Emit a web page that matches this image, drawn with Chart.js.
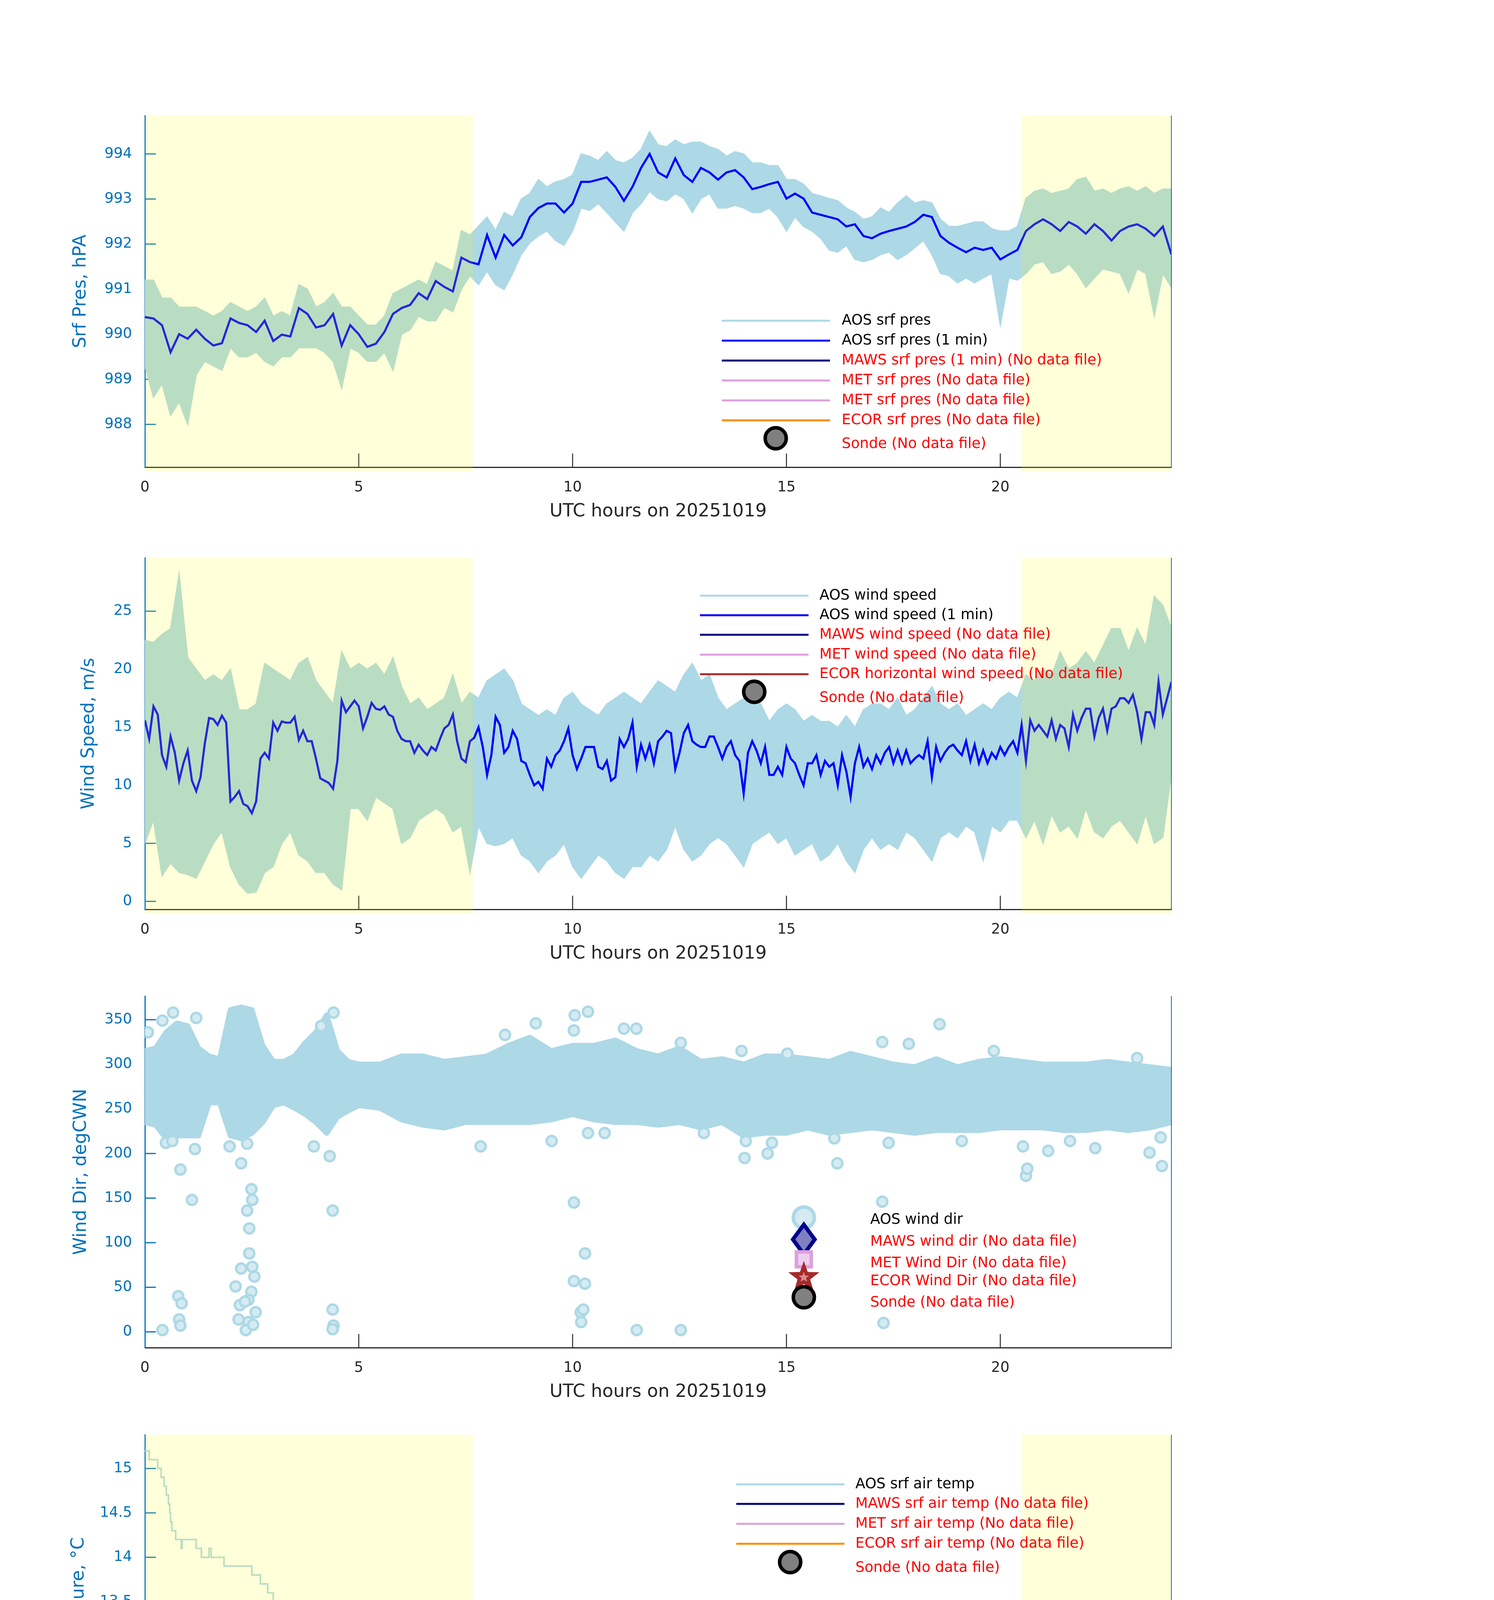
<!DOCTYPE html>
<html>
<head>
<meta charset="utf-8">
<title>Surface met 20251019</title>
<script src="https://cdn.jsdelivr.net/npm/chart.js"></script>
<style>
  body { margin: 0; background: #fff; width: 3825px; height: 7125px; position: relative; overflow: hidden; }
  canvas { position: absolute; left: 0; }
</style>
</head>
<body>
<canvas id="c1" width="3825" height="1300" style="top:146px"></canvas>
<canvas id="c2" width="3825" height="1300" style="top:1278px"></canvas>
<canvas id="c3" width="3825" height="1300" style="top:2400px"></canvas>
<canvas id="c4" width="3825" height="1300" style="top:3523px"></canvas>
<canvas id="c5" width="3825" height="1300" style="top:4646px"></canvas>
<canvas id="c6" width="3825" height="1300" style="top:5778px"></canvas>

<script>
// ---- data ----
const hourTicks = [0, 5, 10, 15, 20];
const shadeStart = [0, 20.5];
const shadeEnd = [7.67, 24];

// surface pressure, hPa (0.2 h samples)
const presStep = 0.2;
const pres1min = [990.38,990.35,990.2,989.6,990.0,989.9,990.1,989.9,989.75,989.8,
  990.35,990.25,990.2,990.05,990.3,989.85,989.99,989.95,990.58,990.45,
  990.15,990.2,990.45,989.75,990.2,990.0,989.72,989.79,990.05,990.45,
  990.58,990.65,990.91,990.78,991.18,991.05,990.95,991.7,991.6,991.55,
  992.2,991.7,992.2,991.97,992.15,992.6,992.8,992.9,992.9,992.7,
  992.9,993.38,993.38,993.43,993.48,993.27,992.96,993.27,993.69,994.0,
  993.59,993.48,993.9,993.53,993.38,993.69,993.59,993.43,993.59,993.64,
  993.48,993.22,993.27,993.33,993.38,993.01,993.12,993.01,992.7,992.65,
  992.6,992.55,992.39,992.44,992.18,992.13,992.23,992.29,992.34,992.39,
  992.49,992.65,992.6,992.18,992.03,991.92,991.82,991.92,991.87,991.92,
  991.66,991.77,991.87,992.29,992.44,992.55,992.44,992.29,992.49,992.39,
  992.23,992.44,992.29,992.08,992.29,992.39,992.44,992.34,992.18,992.39,
  991.77];
const presHi = [991.2,991.2,990.8,990.8,990.6,990.6,990.6,990.5,990.4,990.5,
  990.7,990.6,990.5,990.6,990.8,990.4,990.5,990.4,991.1,991.0,
  990.6,990.7,990.9,990.6,990.6,990.4,990.2,990.2,990.4,990.9,
  991.0,991.1,991.2,991.1,991.6,991.5,991.4,992.3,992.2,992.4,
  992.6,992.3,992.7,992.6,993.0,993.12,993.43,993.27,993.38,993.43,
  993.53,994.0,993.95,993.85,994.05,993.85,993.8,993.9,994.1,994.5,
  994.2,994.16,994.31,994.2,994.26,994.26,994.16,994.1,993.95,994.05,
  994.0,993.8,993.8,993.74,993.74,993.43,993.43,993.33,993.12,993.07,
  993.01,992.96,992.8,992.7,992.55,992.6,992.8,992.7,992.91,993.07,
  992.91,992.96,992.91,992.55,992.39,992.39,992.44,992.49,992.49,992.34,
  992.29,992.29,992.39,993.01,993.17,993.22,993.12,993.17,993.22,993.43,
  993.48,993.17,993.22,993.12,993.22,993.27,993.17,993.27,993.12,993.22,
  993.22];
const presLo = [989.3,988.6,988.9,988.2,988.5,988.0,989.1,989.4,989.3,989.2,
  989.7,989.5,989.5,989.6,989.4,989.3,989.5,989.5,989.7,989.7,
  989.7,989.6,989.4,988.8,989.7,989.6,989.4,989.4,989.6,989.2,
  990.0,990.1,990.4,990.3,990.3,990.6,990.5,991.0,991.3,991.1,
  991.4,991.1,990.99,991.35,991.77,992.03,992.18,992.29,992.08,991.97,
  992.29,992.8,992.75,992.9,992.7,992.49,992.29,992.7,992.9,993.17,
  993.01,992.96,993.12,993.01,992.7,993.01,993.12,992.8,992.8,992.86,
  992.8,992.7,992.7,992.8,992.6,992.29,992.6,992.39,992.29,992.13,
  991.87,991.82,991.97,991.66,991.61,991.66,991.77,991.82,991.66,991.77,
  991.92,992.08,991.77,991.35,991.3,991.14,991.25,991.14,991.25,991.35,
  990.2,991.25,991.2,991.35,991.56,991.61,991.35,991.4,991.56,991.35,
  991.04,991.25,991.45,991.4,991.35,990.93,991.45,991.35,990.4,991.35,
  991.04];
const presTicks = [988, 989, 990, 991, 992, 993, 994];

// wind speed, m/s
const windStep = 0.1;
const wind1min = [15.6,14.0,16.8,16.1,12.6,11.6,14.2,12.8,10.4,11.9,
  13.0,10.4,9.5,10.7,13.6,15.8,15.7,15.2,16.0,15.4,
  8.6,9.0,9.5,8.4,8.2,7.6,8.6,12.3,12.8,12.3,
  15.4,14.7,15.5,15.4,15.4,15.9,13.9,14.7,13.8,13.8,
  12.3,10.6,10.4,10.2,9.7,12.1,17.3,16.3,16.8,17.3,
  16.8,14.9,15.9,17.1,16.6,16.5,16.8,16.1,15.9,14.7,
  14.0,13.8,13.8,12.8,13.5,13.0,12.6,13.3,13.0,14.0,
  14.9,15.2,16.1,13.8,12.3,12.0,13.8,14.1,15.0,13.3,
  10.9,12.6,15.9,15.2,12.8,13.3,14.7,14.0,12.1,11.9,
  10.9,10.0,10.3,9.7,12.3,11.6,12.6,13.0,13.8,14.9,
  12.6,11.4,12.3,13.3,13.3,13.3,11.6,11.4,12.1,10.4,
  10.7,14.0,13.3,14.0,15.4,11.6,13.5,12.3,13.5,11.9,
  13.8,14.2,14.7,14.5,11.4,12.8,14.5,15.2,13.8,13.5,
  13.3,13.3,14.2,14.2,13.3,12.3,13.3,13.8,12.6,12.1,
  9.3,12.8,13.8,13.0,11.9,13.3,10.9,10.9,11.6,10.9,
  13.3,12.3,11.9,10.9,10.0,11.9,11.9,12.6,10.9,12.1,
  11.6,11.9,10.0,12.6,11.2,9.0,11.9,13.3,11.6,12.3,
  11.4,12.6,11.9,12.8,13.3,11.9,13.0,11.9,13.0,11.9,
  12.3,12.6,12.3,13.8,10.7,13.3,12.1,12.8,13.3,13.5,
  13.0,12.6,13.8,12.1,13.5,11.9,13.0,11.9,12.8,12.3,
  13.3,12.6,13.3,13.8,12.8,15.2,12.1,15.6,14.7,15.2,
  14.7,14.2,15.6,14.0,15.2,14.9,13.3,16.1,14.7,15.8,
  16.6,16.6,14.2,15.8,16.6,14.7,16.6,16.8,17.5,17.5,
  17.1,17.8,16.3,14.0,16.3,16.3,15.2,18.9,16.1,17.5,
  18.9];
const windBandStep = 0.2;
const windHi = [22.5,22.3,23.0,23.5,28.2,21.0,20.0,19.0,19.5,19.0,
  20.0,16.5,16.5,17.0,20.5,20.0,19.5,19.0,20.5,21.0,
  19.0,18.0,17.0,21.5,20.0,20.5,20.0,20.5,19.5,21.0,
  18.5,17.0,17.5,16.5,17.0,17.5,19.5,17.0,18.0,17.5,
  19.0,19.5,20.0,19.0,17.0,16.5,16.0,16.5,16.0,17.5,
  18.0,17.0,16.5,16.0,17.0,17.5,18.0,17.5,17.0,18.0,
  19.0,18.5,18.0,19.5,20.5,19.0,19.5,17.5,16.5,17.0,
  17.5,18.0,17.0,15.5,16.5,17.0,16.5,15.5,16.0,15.5,
  15.5,15.0,16.0,15.0,16.5,17.0,17.0,16.5,17.5,16.0,
  16.5,17.5,18.5,17.0,16.5,17.0,16.0,16.5,17.0,16.5,
  17.5,18.0,17.5,19.5,19.0,20.0,19.5,21.5,20.0,20.5,
  21.5,20.5,22.0,23.5,23.5,21.5,23.5,22.0,26.3,25.5,
  23.5];
const windLo = [5.0,7.0,2.2,3.3,2.5,2.3,2.0,3.5,5.0,6.0,
  3.0,1.5,0.7,0.8,2.5,3.0,5.0,6.0,4.0,3.5,
  2.5,2.5,1.5,1.0,8.0,8.0,7.0,9.0,8.5,8.0,
  5.0,5.5,7.0,7.5,8.0,7.5,6.0,6.5,2.5,6.5,
  5.0,4.8,5.0,5.5,4.0,3.5,2.5,3.5,4.0,5.0,
  3.0,2.0,3.0,4.0,3.5,2.5,2.0,3.0,3.0,4.0,
  3.5,4.5,6.5,4.5,3.5,4.0,5.0,5.5,5.0,4.0,
  3.0,5.0,5.5,6.0,5.0,5.5,4.0,4.5,5.0,3.5,
  4.0,5.0,3.5,2.5,4.5,5.5,4.5,5.0,4.5,6.0,
  5.5,4.5,3.5,5.5,6.0,5.5,6.5,6.0,3.5,6.5,
  6.0,7.0,7.0,5.5,7.0,5.0,7.5,6.0,6.5,5.5,
  8.0,6.0,5.5,6.5,7.0,6.0,5.0,7.5,5.0,5.5,
  11.0];
const windTicks = [0, 5, 10, 15, 20, 25];

// wind direction, deg (dense band edges + isolated points)
const dirHours = [0,0.25,0.5,0.75,1,1.25,1.5,1.75,2,2.25,2.5,2.75,3,3.25,3.5,3.75,4,4.25,4.5,4.75,5,
  5.5,6,6.5,7,7.5,8,8.5,9,9.5,10,10.5,11,11.5,12,12.5,13,13.5,14,14.5,15,15.5,16,16.5,17,17.5,18,18.5,19,19.5,20,20.5,21,21.5,22,22.5,23,23.5,24];
const dirHi = [315,318,336,346,343,318,309,306,361,364,361,321,303,303,309,324,336,355,315,303,300,
  300,309,309,303,306,309,321,330,315,321,321,327,315,309,318,303,306,300,309,309,306,303,312,306,300,297,306,297,303,306,303,300,300,300,303,300,297,294];
const dirLo = [235,232,217,220,220,220,257,257,220,217,223,235,254,257,251,244,235,223,241,248,254,
  251,238,232,229,235,235,235,235,238,244,238,235,235,232,235,229,235,220,223,223,229,223,226,229,226,223,226,226,226,229,229,229,226,226,229,226,229,235];
const dirOutH = [0.07,0.41,0.66,0.83,0.78,0.86,0.8,0.83,0.49,0.64,1.17,1.1,1.2,0.41,1.98,2.25,2.39,2.49,2.51,2.39,
  2.44,2.44,2.25,2.51,2.56,2.12,2.49,2.42,2.22,2.34,2.59,2.19,2.42,2.36,2.53,3.95,4.32,4.39,4.39,4.41,
  4.39,4.41,4.12,7.85,9.51,9.14,8.42,10.05,10.36,10.03,10.03,10.03,10.29,10.29,10.19,10.2,10.25,10.36,10.75,11.2,
  11.49,11.5,12.53,12.53,13.07,14.02,14.05,14.56,14.66,16.19,16.12,17.24,17.27,17.24,17.39,17.86,18.58,19.1,19.85,20.6,
  20.63,20.53,21.12,21.63,22.22,23.49,23.78,23.75,23.2,13.95,15.02];
const dirOutV = [336,2,358,182,40,32,14,7,212,214,205,148,352,349,208,189,211,160,148,136,
  116,88,71,73,62,51,45,36,30,34,22,14,11,2,8,208,197,136,25,7,
  3,358,343,208,214,346,333,355,359,338,145,57,54,88,22,11,25,223,223,340,
  340,2,2,324,223,195,214,200,212,189,217,146,10,325,212,323,345,214,315,175,
  183,208,203,214,206,201,186,218,307,315,312];
const dirTicks = [0, 50, 100, 150, 200, 250, 300, 350];

// air temperature, degC (value changes at these hours)
const tempH = [0,0.1,0.3,0.38,0.45,0.5,0.55,0.58,0.6,0.63,
  0.72,0.85,0.87,1.2,1.32,1.5,1.55,1.85,2.5,2.7,
  2.87,3.0,3.65,3.95,4.1,4.35,4.55,4.6,4.67,4.72,
  4.78,4.83,5.0,5.05,5.2,5.23,5.6,5.65,5.7,5.75,
  6.1,6.9,6.93,7.0,7.05,7.15,7.5,7.55,7.58,8.0,
  8.05,8.1,8.15,8.3,8.35,8.4,8.6,8.85,8.9,8.95,
  9.15,9.4,9.45,9.5,9.6,9.7,9.8,9.9,10.1,10.15,
  10.4,10.45,10.6,10.75,10.8,11.0,11.05,11.7,11.75,11.8,
  11.85,11.9,12.3,12.35,12.5,12.55,12.6,12.8,12.9,12.95,
  13.2,13.25,13.4,13.45,13.6,13.7,13.9,14.0,14.05,14.4,
  14.45,14.6,14.65,14.8,14.9,15.0,15.1,15.3,15.6,15.65,
  15.8,15.85,16.0,16.1,16.3,16.4,16.5,16.55,16.7,16.8,
  16.9,17.1,17.15,17.3,17.4,17.5,17.6,17.8,17.85,18.0,
  18.1,18.3,18.35,18.4,18.6,18.7,18.9,19.1,19.3,19.5,
  19.7,19.9,19.95,20.1,20.35,20.4,20.55,20.6,20.8,20.9,
  21.0,21.05,21.2,21.3,21.5,21.6,21.65,21.8,21.85,22.2,
  22.25,22.6,22.65,22.8,22.9,23.0,23.3,23.35,23.45,23.55,
  23.7,23.8,24.0];
const tempV = [15.2,15.1,15.0,14.9,14.8,14.7,14.6,14.5,14.4,14.3,
  14.2,14.1,14.2,14.1,14.0,14.1,14.0,13.9,13.8,13.7,
  13.6,13.5,13.4,13.3,13.2,13.1,12.9,12.7,12.8,13.0,
  13.1,13.2,13.1,13.2,13.3,13.2,13.3,13.2,13.3,13.2,
  13.1,13.2,13.0,13.1,13.0,13.1,13.0,12.8,12.9,13.0,
  12.9,12.8,12.9,12.8,12.7,12.8,12.7,12.8,12.6,12.7,
  12.6,12.5,12.6,12.7,12.6,12.7,12.6,12.5,12.4,12.5,
  12.4,12.5,12.4,12.3,12.4,12.3,12.4,12.5,12.3,12.1,
  12.3,12.4,12.3,12.4,12.3,12.2,12.3,12.2,12.1,12.2,
  12.1,12.2,12.3,12.2,12.1,12.2,12.1,11.9,12.0,12.1,
  12.0,11.9,12.0,12.1,12.0,12.1,12.0,11.9,11.8,11.9,
  11.7,11.9,11.8,11.9,11.8,11.9,11.7,11.8,11.9,11.8,
  11.9,11.7,11.8,11.9,11.7,11.8,11.9,11.6,11.8,11.9,
  11.8,11.9,12.0,11.9,11.8,11.9,11.8,11.9,11.8,11.9,
  11.8,11.7,11.8,11.9,12.0,11.9,12.1,12.0,12.1,12.0,
  11.8,12.0,12.1,12.0,12.1,11.9,12.0,12.2,12.1,12.2,
  12.1,12.0,12.1,12.2,12.1,12.2,12.4,12.3,12.2,12.3,
  12.2,12.3,12.2];
const tempTicks = [11.5, 12, 12.5, 13, 13.5, 14, 14.5, 15];

// relative humidity, % (0.2 h samples)
const rhStep = 0.2;
const rhVals = [74.0,74.8,75.9,80.8,85.0,84.9,85.3,86.2,86.8,88.4,
  89.9,90.5,90.9,91.1,91.8,92.6,92.6,92.6,92.9,93.9,
  95.2,96.1,97.3,96.3,92.6,90.7,88.1,87.9,87.8,88.2,
  89.4,89.9,90.3,90.7,89.7,89.2,85.8,83.2,85.8,83.7,
  82.4,83.2,80.8,84.2,81.3,83.2,84.2,83.7,85.8,84.5,
  83.4,83.7,82.4,80.6,79.0,81.1,80.6,76.9,77.4,80.3,
  76.1,74.6,78.5,78.0,78.0,78.5,78.2,77.2,80.8,78.0,
  80.8,78.5,77.4,79.5,80.3,79.5,79.8,80.0,79.5,79.3,
  79.3,78.2,77.2,80.3,79.0,79.8,77.2,78.5,78.0,77.4,
  78.0,77.2,79.3,75.3,73.3,73.8,75.9,78.0,78.2,78.7,
  75.6,76.1,75.6,76.9,73.5,74.8,73.3,74.3,73.5,74.0,
  71.7,73.0,72.2,70.4,72.5,71.7,69.6,73.3,72.7,69.1,
  70.1];
const rhTicks = [70, 75, 80, 85, 90, 95];

const pwvTicks = [-2, -1.5, -1, -0.5, 0, 0.5, 1, 1.5, 2];

// ---- styling ----
Chart.defaults.font.family = 'DejaVu Sans';
const AX_BLUE = 'rgb(0,114,189)';
const DARK = 'rgb(38,38,38)';
const LB = 'rgb(173,216,230)';
const LB_FILL = 'rgb(212,235,241)';
const BLUE = 'rgb(0,0,255)';
const NAVY = 'rgb(0,0,128)';
const PLUM = 'rgb(221,160,221)';
const DORANGE = 'rgb(255,140,0)';
const ORANGE = 'rgb(255,165,0)';
const BROWN = 'rgb(165,42,42)';

const toXY = (vals, step) => vals.map((v, i) => ({ x: Math.round(i * step * 100) / 100, y: v }));
const pairXY = (xs, ys) => xs.map((x, i) => ({ x: x, y: ys[i] }));

function drawMarker(ctx, kind, x, y) {
  ctx.save();
  if (kind === 'sonde' || kind === 'circle') {
    ctx.beginPath();
    ctx.arc(x, y, 27, 0, Math.PI * 2);
    ctx.fillStyle = kind === 'sonde' ? 'rgb(128,128,128)' : LB_FILL;
    ctx.fill();
    ctx.lineWidth = 9;
    ctx.strokeStyle = kind === 'sonde' ? '#000' : LB;
    ctx.stroke();
  } else if (kind === 'diamond') {
    ctx.beginPath();
    ctx.moveTo(x, y - 38); ctx.lineTo(x + 28, y); ctx.lineTo(x, y + 38); ctx.lineTo(x - 28, y); ctx.closePath();
    ctx.fillStyle = 'rgb(128,128,192)'; ctx.fill();
    ctx.lineWidth = 10; ctx.strokeStyle = 'rgb(0,0,139)'; ctx.stroke();
  } else if (kind === 'square') {
    ctx.fillStyle = 'rgb(238,206,238)';
    ctx.fillRect(x - 19, y - 19, 38, 38);
    ctx.lineWidth = 9; ctx.strokeStyle = PLUM;
    ctx.strokeRect(x - 19, y - 19, 38, 38);
  } else if (kind === 'star') {
    const star = (R, r, color) => {
      ctx.beginPath();
      for (let k = 0; k < 10; k++) {
        const a = -Math.PI / 2 + k * Math.PI / 5;
        const rad = k % 2 === 0 ? R : r;
        ctx.lineTo(x + rad * Math.cos(a), y + rad * Math.sin(a));
      }
      ctx.closePath();
      ctx.fillStyle = color; ctx.fill();
    };
    star(42, 17, BROWN);
    star(14, 6, 'rgb(214,140,140)');
  }
  ctx.restore();
}

const framePlugin = {
  id: 'frame',
  beforeDatasetsDraw(chart) {
    const { ctx, chartArea: a, scales: { x, y } } = chart;
    ctx.save();
    ctx.lineWidth = 3;
    ctx.strokeStyle = AX_BLUE;
    y.ticks.forEach(t => {
      const py = y.getPixelForValue(t.value);
      ctx.beginPath(); ctx.moveTo(a.left, py); ctx.lineTo(a.left + 28, py); ctx.stroke();
    });
    ctx.strokeStyle = DARK;
    ctx.lineWidth = 2.5;
    x.ticks.forEach(t => {
      if (t.value === 0) return;
      const px = x.getPixelForValue(t.value);
      ctx.beginPath(); ctx.moveTo(px, a.bottom); ctx.lineTo(px, a.bottom - 35); ctx.stroke();
    });
    ctx.restore();
  },
  afterDatasetsDraw(chart, args, o) {
    const { ctx, chartArea: a, scales: { x, y } } = chart;
    ctx.save();
    if (o.shade) {
      ctx.fillStyle = 'rgba(255,255,0,0.15)';
      shadeStart.forEach((s, i) => {
        const x0 = x.getPixelForValue(s), x1 = x.getPixelForValue(shadeEnd[i]);
        const y0 = y.getPixelForValue(o.shade[1]), y1 = y.getPixelForValue(o.shade[0]);
        ctx.fillRect(x0, y0, x1 - x0, y1 - y0);
      });
    }
    ctx.strokeStyle = AX_BLUE;
    ctx.lineWidth = 2;
    ctx.beginPath(); ctx.moveTo(a.right, a.top); ctx.lineTo(a.right, a.bottom); ctx.stroke();
    ctx.restore();
  },
  afterDraw(chart, args, o) {
    const L = o.legend;
    if (!L) return;
    const ctx = chart.ctx;
    ctx.save();
    ctx.font = '37px "DejaVu Sans"';
    ctx.textBaseline = 'middle';
    ctx.textAlign = 'left';
    let r = 0;
    chart.data.datasets.forEach(ds => {
      if (!ds.lg) return;
      const ly = L.rows[r], ty = L.textRows[r];
      r++;
      if (ds.lg.kind === 'line') {
        ctx.strokeStyle = ds.lg.color;
        ctx.lineWidth = 5;
        ctx.beginPath(); ctx.moveTo(L.x0, ly); ctx.lineTo(L.x1, ly); ctx.stroke();
      } else {
        drawMarker(ctx, ds.lg.kind, L.mx, ly);
      }
      ctx.fillStyle = ds.lg.red ? 'rgb(255,0,0)' : 'rgb(0,0,0)';
      ctx.fillText(ds.label, L.tx, ty);
    });
    ctx.restore();
  }
};

function noData(label, color) {
  return { label: label, data: [], borderColor: color, order: 9, lg: { kind: 'line', color: color, red: true } };
}
function sonde() {
  return { label: 'Sonde (No data file)', data: [], showLine: false, order: 9, lg: { kind: 'sonde', red: true } };
}

function makeChart(id, c) {
  return new Chart(document.getElementById(id), {
    type: 'line',
    data: { datasets: c.datasets },
    options: {
      responsive: false,
      animation: false,
      devicePixelRatio: 1,
      layout: { padding: { left: 0, top: 150, right: 826, bottom: 0 } },
      elements: { point: { radius: 0 }, line: { tension: 0 } },
      plugins: {
        legend: { display: false },
        tooltip: { enabled: false },
        frame: { shade: c.shade, legend: c.legend }
      },
      scales: {
        x: {
          type: 'linear', min: 0, max: 24,
          afterBuildTicks: s => { s.ticks = hourTicks.map(v => ({ value: v })); },
          afterFit: s => { s.height = 250; },
          grid: { display: false, drawTicks: false },
          border: { display: true, color: DARK, width: 3 },
          ticks: { color: DARK, font: { size: 37 }, padding: 30, maxRotation: 0, autoSkip: false },
          title: { display: true, text: 'UTC hours on 20251019', color: DARK, font: { size: 46 }, padding: { top: 0, bottom: 108 } }
        },
        y: {
          type: 'linear', min: c.yMin, max: c.yMax,
          afterBuildTicks: s => { s.ticks = c.yTicks.map(v => ({ value: v })); },
          afterFit: s => { s.width = 371; },
          grid: { display: false, drawTicks: false },
          border: { display: true, color: AX_BLUE, width: 3 },
          ticks: { color: AX_BLUE, font: { size: 37 }, padding: 33, autoSkip: false, callback: v => String(v) },
          title: { display: true, text: c.yTitle, color: AX_BLUE, font: { size: 46 }, padding: { top: c.titlePad, bottom: 0 } }
        }
      }
    },
    plugins: [framePlugin]
  });
}

// ---- panel 1: pressure ----
makeChart('c1', {
  yMin: 987.05, yMax: 994.85, yTicks: presTicks, yTitle: 'Srf Pres, hPA', titlePad: 179,
  shade: [986.96, 994.85],
  legend: { x0: 1848, x1: 2125, tx: 2155, mx: 1986,
    rows: [675, 726, 777, 828, 879, 930, 976], textRows: [675, 726, 777, 828, 879, 930, 991] },
  datasets: [
    { label: 'AOS srf pres', data: toXY(presHi, presStep), borderColor: LB, borderWidth: 3, order: 2, lg: { kind: 'line', color: LB } },
    { data: toXY(presLo, presStep), borderColor: LB, borderWidth: 3, backgroundColor: LB, fill: '-1', order: 2 },
    { label: 'AOS srf pres (1 min)', data: toXY(pres1min, presStep), borderColor: BLUE, borderWidth: 5.5, order: 1, lg: { kind: 'line', color: BLUE } },
    noData('MAWS srf pres (1 min) (No data file)', NAVY),
    noData('MET srf pres (No data file)', PLUM),
    noData('MET srf pres (No data file)', PLUM),
    noData('ECOR srf pres (No data file)', DORANGE),
    sonde()
  ]
});

// ---- panel 2: wind speed ----
makeChart('c2', {
  yMin: -0.69, yMax: 29.6, yTicks: windTicks, yTitle: 'Wind Speed, m/s', titlePad: 200,
  shade: [-1.03, 29.6],
  legend: { x0: 1792, x1: 2070, tx: 2098, mx: 1931,
    rows: [247, 297, 347, 398, 448, 493], textRows: [247, 297, 347, 398, 448, 509] },
  datasets: [
    { label: 'AOS wind speed', data: toXY(windHi, windBandStep), borderColor: LB, borderWidth: 3, order: 2, lg: { kind: 'line', color: LB } },
    { data: toXY(windLo, windBandStep), borderColor: LB, borderWidth: 3, backgroundColor: LB, fill: '-1', order: 2 },
    { label: 'AOS wind speed (1 min)', data: toXY(wind1min, windStep), borderColor: BLUE, borderWidth: 5.5, order: 1, lg: { kind: 'line', color: BLUE } },
    noData('MAWS wind speed (No data file)', NAVY),
    noData('MET wind speed (No data file)', PLUM),
    noData('ECOR horizontal wind speed (No data file)', BROWN),
    sonde()
  ]
});

// ---- panel 3: wind direction ----
makeChart('c3', {
  yMin: -17.7, yMax: 376.5, yTicks: dirTicks, yTitle: 'Wind Dir, degCWN', titlePad: 180,
  shade: null,
  legend: { x0: 0, x1: 0, tx: 2228, mx: 2058,
    rows: [717, 773, 824, 870, 921], textRows: [723, 779, 834, 880, 935] },
  datasets: [
    { data: pairXY(dirHours, dirHi), borderColor: LB, borderWidth: 14, borderJoinStyle: 'round', order: 2 },
    { data: pairXY(dirHours, dirLo), borderColor: LB, borderWidth: 14, borderJoinStyle: 'round', backgroundColor: LB, fill: '-1', order: 2 },
    { label: 'AOS wind dir', data: pairXY(dirOutH, dirOutV), showLine: false, pointRadius: 13, pointBorderWidth: 6,
      pointBorderColor: LB, pointBackgroundColor: LB_FILL, order: 1, lg: { kind: 'circle' } },
    { label: 'MAWS wind dir (No data file)', data: [], showLine: false, order: 9, lg: { kind: 'diamond', red: true } },
    { label: 'MET Wind Dir (No data file)', data: [], showLine: false, order: 9, lg: { kind: 'square', red: true } },
    { label: 'ECOR Wind Dir (No data file)', data: [], showLine: false, order: 9, lg: { kind: 'star', red: true } },
    sonde()
  ]
});

// ---- panel 4: temperature ----
makeChart('c4', {
  yMin: 11.42, yMax: 15.38, yTicks: tempTicks, yTitle: 'Temperature, °C', titlePad: 174,
  shade: [11.376, 15.38],
  legend: { x0: 1885, x1: 2162, tx: 2190, mx: 2023,
    rows: [277, 327, 378, 429, 476], textRows: [277, 327, 378, 429, 491] },
  datasets: [
    { label: 'AOS srf air temp', data: pairXY(tempH, tempV), borderColor: LB, borderWidth: 4, stepped: true, order: 1, lg: { kind: 'line', color: LB } },
    noData('MAWS srf air temp (No data file)', NAVY),
    noData('MET srf air temp (No data file)', PLUM),
    noData('ECOR srf air temp (No data file)', DORANGE),
    sonde()
  ]
});

// ---- panel 5: relative humidity ----
makeChart('c5', {
  yMin: 65.57, yMax: 99.04, yTicks: rhTicks, yTitle: 'Relative Humidity, %', titlePad: 197,
  shade: [65.2, 99.04],
  legend: { x0: 1972, x1: 2244, tx: 2273, mx: 2108,
    rows: [276, 326, 377, 428, 475], textRows: [276, 326, 377, 428, 490] },
  datasets: [
    { label: 'AOS RH', data: toXY(rhVals, rhStep), borderColor: LB, borderWidth: 10, order: 2, lg: { kind: 'line', color: LB } },
    { label: 'AOS RH (1 min)', data: toXY(rhVals, rhStep), borderColor: BLUE, borderWidth: 5, order: 1, lg: { kind: 'line', color: BLUE } },
    noData('MAWS RH (No data file)', NAVY),
    noData('MET RH (No data file)', PLUM),
    sonde()
  ]
});

// ---- panel 6: precipitable water vapor ----
makeChart('c6', {
  yMin: -2, yMax: 2, yTicks: pwvTicks, yTitle: 'Precip. Water Vapor, mm', titlePad: 184,
  shade: [-0.1, 1.1],
  legend: { x0: 1931, x1: 2208, tx: 2236, mx: 2070,
    rows: [433, 483, 530], textRows: [433, 483, 544] },
  datasets: [
    noData('MWR 2C PWV (No data file)', ORANGE),
    noData('MWR 3C PWV (No data file)', BROWN),
    sonde()
  ]
});
</script>
</body>
</html>
